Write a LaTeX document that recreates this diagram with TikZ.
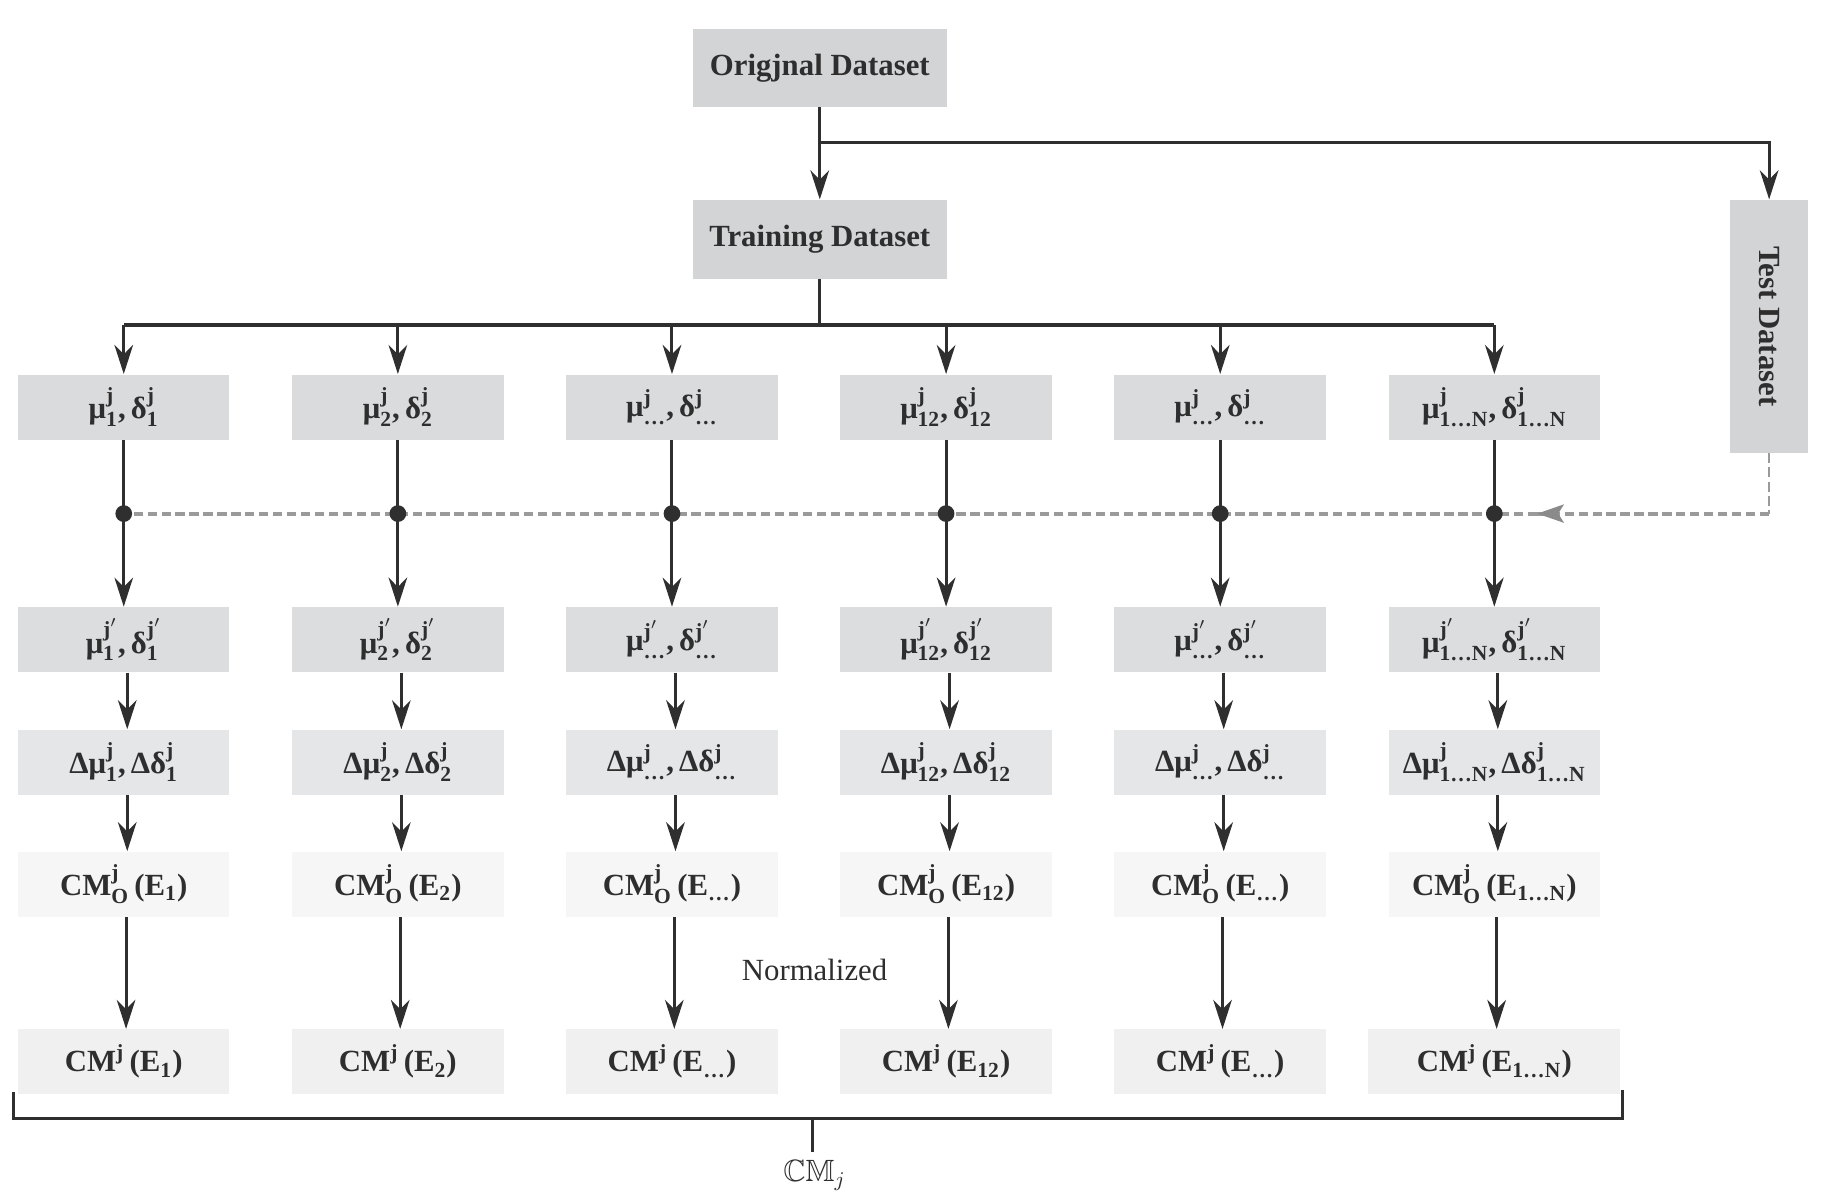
\documentclass[tikz,border=0pt]{standalone}
\usepackage{amsmath,amssymb}
\usepackage{fontspec}
\setmainfont{Liberation Serif}
\usetikzlibrary{arrows.meta,calc}
\definecolor{lnc}{HTML}{2F2F2F}
\definecolor{txc}{HTML}{2E2E2E}
\definecolor{cTop}{HTML}{D3D4D6}
\definecolor{cRa}{HTML}{DADBDD}
\definecolor{cRb}{HTML}{DCDDDF}
\definecolor{cRc}{HTML}{E5E6E8}
\definecolor{cRd}{HTML}{F6F6F6}
\definecolor{cRe}{HTML}{F0F0F0}
\definecolor{dashc}{HTML}{9A9A9A}
\definecolor{tipc}{HTML}{8A8A8A}
\newcommand\myfs{\fontsize{13.25}{16}\selectfont}
\newcommand\rowA[1]{μ$^{\textbf{j}}_{\textbf{#1}}$,\,δ$^{\textbf{j}}_{\textbf{#1}}$}
\newcommand\rowB[1]{μ$^{\textbf{j}'}_{\textbf{#1}}$,\,δ$^{\textbf{j}'}_{\textbf{#1}}$}
\newcommand\rowC[1]{Δμ$^{\textbf{j}}_{\textbf{#1}}$,\,Δδ$^{\textbf{j}}_{\textbf{#1}}$}
\newcommand\rowD[1]{CM$^{\textbf{j}}_{\textbf{O}}$\,(E$_{\textbf{#1}}$)}
\newcommand\rowE[1]{CM$^{\textbf{j}}$\,(E$_{\textbf{#1}}$)}
\begin{document}
\begin{tikzpicture}[x=0.5pt,y=-0.5pt,
  box/.style={fill=#1, draw=none, inner sep=0pt, minimum width=91pt, minimum height=28pt, font=\myfs\bfseries, text=txc},
  conn/.style={draw=lnc, line width=1.3pt},
  arr/.style={conn, -{Stealth[length=12.5pt, width=8pt, inset=4pt]}},
  dashln/.style={draw=dashc, line width=1.7pt, dash pattern=on 4pt off 2pt},
  dashv/.style={draw=dashc, line width=1.1pt, dash pattern=on 4.3pt off 1.8pt},
  dot/.style={fill=lnc}]
\useasboundingbox (0,0) rectangle (1568,1036);

% top nodes
\node[box=cTop, minimum width=109.5pt, minimum height=33.5pt] (orig) at (705.5,58.5) {Origjnal Dataset};
\node[box=cTop, minimum width=109.5pt, minimum height=34pt] (train) at (705.5,206) {Training Dataset};
\node[box=cTop, rotate=-90, minimum width=108.8pt, minimum height=33.5pt] (test) at (1522.5,280.8) {Test Dataset};

% grid nodes
\foreach \i/\s/\w in {1/1/91,2/2/91,3/…/91,4/12/91,5/…/91,6/1…N/108.5}{
  \pgfmathsetmacro\cx{106.5+235.9*(\i-1)}
  \node[box=cRa] (ra\i) at (\cx,350.3) {\rowA{\s}};
  \node[box=cRb] (rb\i) at (\cx,550.5) {\rowB{\s}};
  \node[box=cRc] (rc\i) at (\cx,656) {\rowC{\s}};
  \node[box=cRd] (rd\i) at (\cx,761) {\rowD{\s}};
  \node[box=cRe, minimum width=\w pt, minimum height=27.8pt] (re\i) at (\cx,913.7) {\rowE{\s}};
}

% coordinates
\coordinate (brY) at (0,123);
\coordinate (hbY) at (0,279.7);
\coordinate (dlY) at (0,442);
\coordinate (tip) at (1323,442);

% top connectors
\draw[arr] (orig.south) -- (train.north);
\draw[arr] (orig.south |- brY) -| (test.west);
\draw[conn] (train.south) -- (train.south |- hbY);
\draw[conn] (ra1.north |- hbY) -- (ra6.north |- hbY);

% dashed test line
\draw[dashv] (test.east) -- (test.east |- dlY);
\draw[dashln] (test.east |- dlY) -- (tip);
\draw[dashln] (tip) -- (ra1.south |- dlY);
\fill[tipc] (tip) -- ++(23,-8) -- ++(-5,8) -- ++(5,8) -- cycle;

\foreach \i in {1,...,6}{
  \draw[arr] (ra\i.north |- hbY) -- (ra\i.north);
  \draw[arr] (ra\i.south) -- (rb\i.north);
  \fill[dot] (ra\i.south |- dlY) circle (3.6pt);
  \draw[arr] ([xshift=1.5pt]rb\i.south) -- ([xshift=1.5pt]rc\i.north);
  \draw[arr] ([xshift=1.5pt]rc\i.south) -- ([xshift=1.5pt]rc\i.north |- re\i.north |- rd\i.north);
  \draw[arr] ([xshift=1pt]rd\i.south) -- ([xshift=1pt]re\i.north -| rd\i.south);
}

% label
\node[font=\myfs, text=txc] (norm) at (701,835) {Normalized};

% bracket
\coordinate (bTL) at (12,940.7);
\coordinate (bBL) at (12,962.5);
\coordinate (bBR) at (1396,962.5);
\coordinate (bTR) at (1396,939.5);
\coordinate (bMid) at (699,962.5);
\draw[conn, line cap=rect] (bTL) -- (bBL) -- (bBR) -- (bTR);
\node[font=\myfs, text=txc, anchor=base] (cmj) at (701,1017) {$\mathbb{CM}_j$};
\draw[conn] (bMid) -- (bMid |- 0,991);
\end{tikzpicture}
\end{document}
